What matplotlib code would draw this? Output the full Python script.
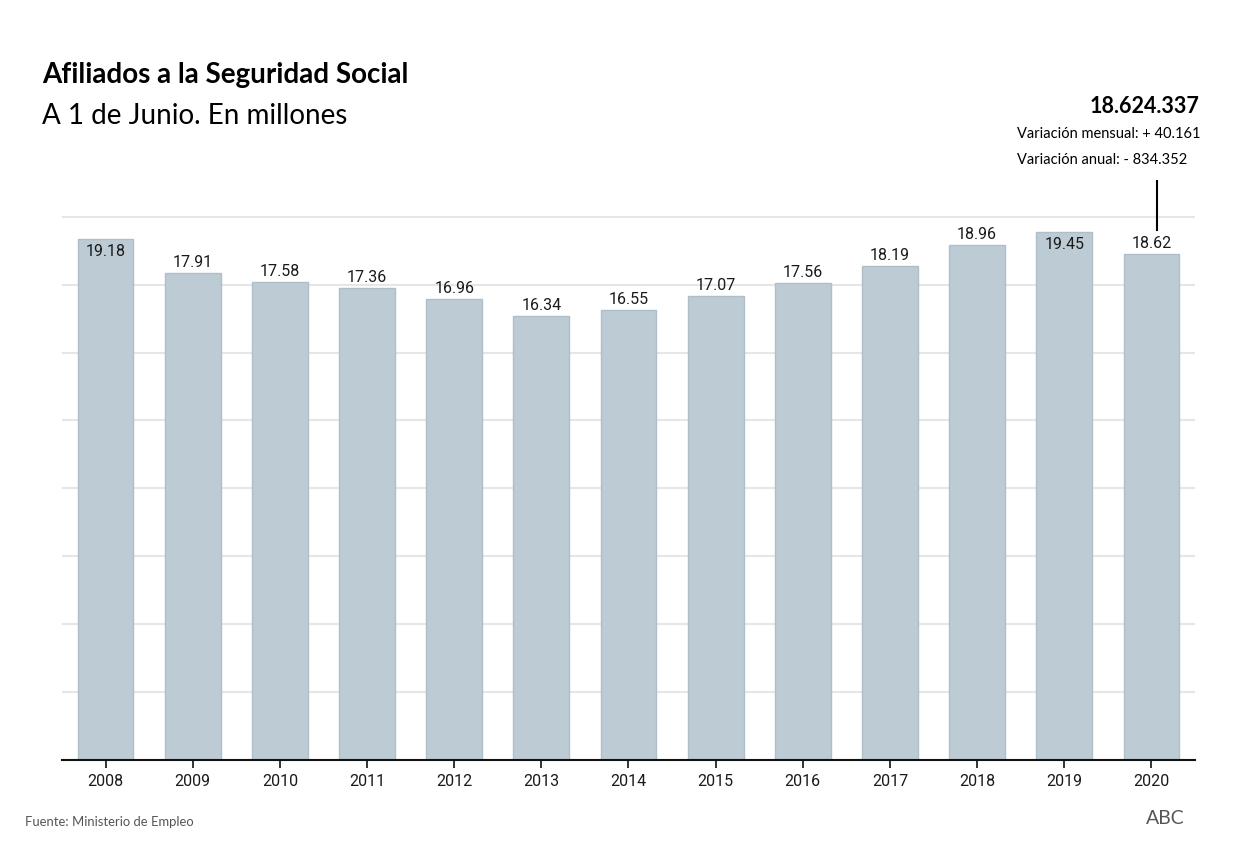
import matplotlib.pyplot as plt
import numpy as np

years = ["2008", "2009", "2010", "2011", "2012", "2013", "2014",
         "2015", "2016", "2017", "2018", "2019", "2020"]
afiliados = [19.18, 17.91, 17.58, 17.36, 16.96, 16.34, 16.55,
             17.07, 17.56, 18.19, 18.96, 19.45, 18.62]

BAR_COLOR = "#bccbd4"
TEXT_COLOR = "#1a1a1a"


def main():
    fig = plt.figure(figsize=(12.4, 8.49), dpi=100)
    ax = fig.add_axes([0.05, 0.1048, 0.9137, 0.6432])

    x = np.arange(len(years))
    ax.bar(x, afiliados, width=0.64, color=BAR_COLOR,
           edgecolor="#aebfca", linewidth=1.0, zorder=2)

    ax.set_xlim(-0.5, len(years) - 0.5)
    ax.set_ylim(0, 20.1)
    ax.set_yticks(np.arange(2.5, 20.01, 2.5))
    ax.yaxis.grid(True, color="#e6e6e6", linewidth=1.5, zorder=0)
    ax.tick_params(axis="y", left=False, labelleft=False)

    for side in ["left", "right", "top"]:
        ax.spines[side].set_visible(False)
    ax.spines["bottom"].set_linewidth(1.5)
    ax.spines["bottom"].set_color("#111111")

    ax.set_xticks(x)
    ax.set_xticklabels(years, fontsize=11.5, family="Roboto", color=TEXT_COLOR)
    ax.tick_params(axis="x", length=6, width=1.2, color="#111111", pad=4)

    # value labels: above the bar, or inside when the bar is near the top
    for xi, v in zip(x, afiliados):
        if v > 19.0:
            ax.text(xi, v - 0.2, f"{v:.2f}", ha="center", va="top",
                    fontsize=11.5, family="Roboto", color=TEXT_COLOR, zorder=3)
        else:
            ax.text(xi, v + 0.12, f"{v:.2f}", ha="center", va="bottom",
                    fontsize=11.5, family="Roboto", color=TEXT_COLOR, zorder=3)

    # pointer for 2020
    ax.plot([x[-1] + 0.06, x[-1] + 0.06], [19.5, 21.3], color="black",
            linewidth=1.5, clip_on=False, zorder=3)

    fig.text(0.034, 0.912, "Afiliados a la Seguridad Social", fontsize=20,
             fontweight="bold", family="Lato", color="black", va="center")
    fig.text(0.034, 0.863, "A 1 de Junio. En millones", fontsize=20,
             family="Lato", color="black", va="center")

    fig.text(0.923, 0.875, "18.624.337", fontsize=15.5, fontweight="bold",
             family="Lato", color="black", ha="center", va="center")
    fig.text(0.820, 0.842, "Variación mensual: + 40.161", fontsize=10.5,
             family="Lato", color="black", ha="left", va="center")
    fig.text(0.820, 0.811, "Variación anual: - 834.352", fontsize=10.5,
             family="Lato", color="black", ha="left", va="center")

    fig.text(0.02, 0.032, "Fuente: Ministerio de Empleo", fontsize=9.4,
             family="Lato", color="#555555", va="center")
    fig.text(0.955, 0.036, "ABC", fontsize=14, family="Lato",
             color="#555555", ha="right", va="center")

    fig.savefig("out.png", dpi=100, facecolor="white")
    plt.close(fig)


if __name__ == "__main__":
    main()
